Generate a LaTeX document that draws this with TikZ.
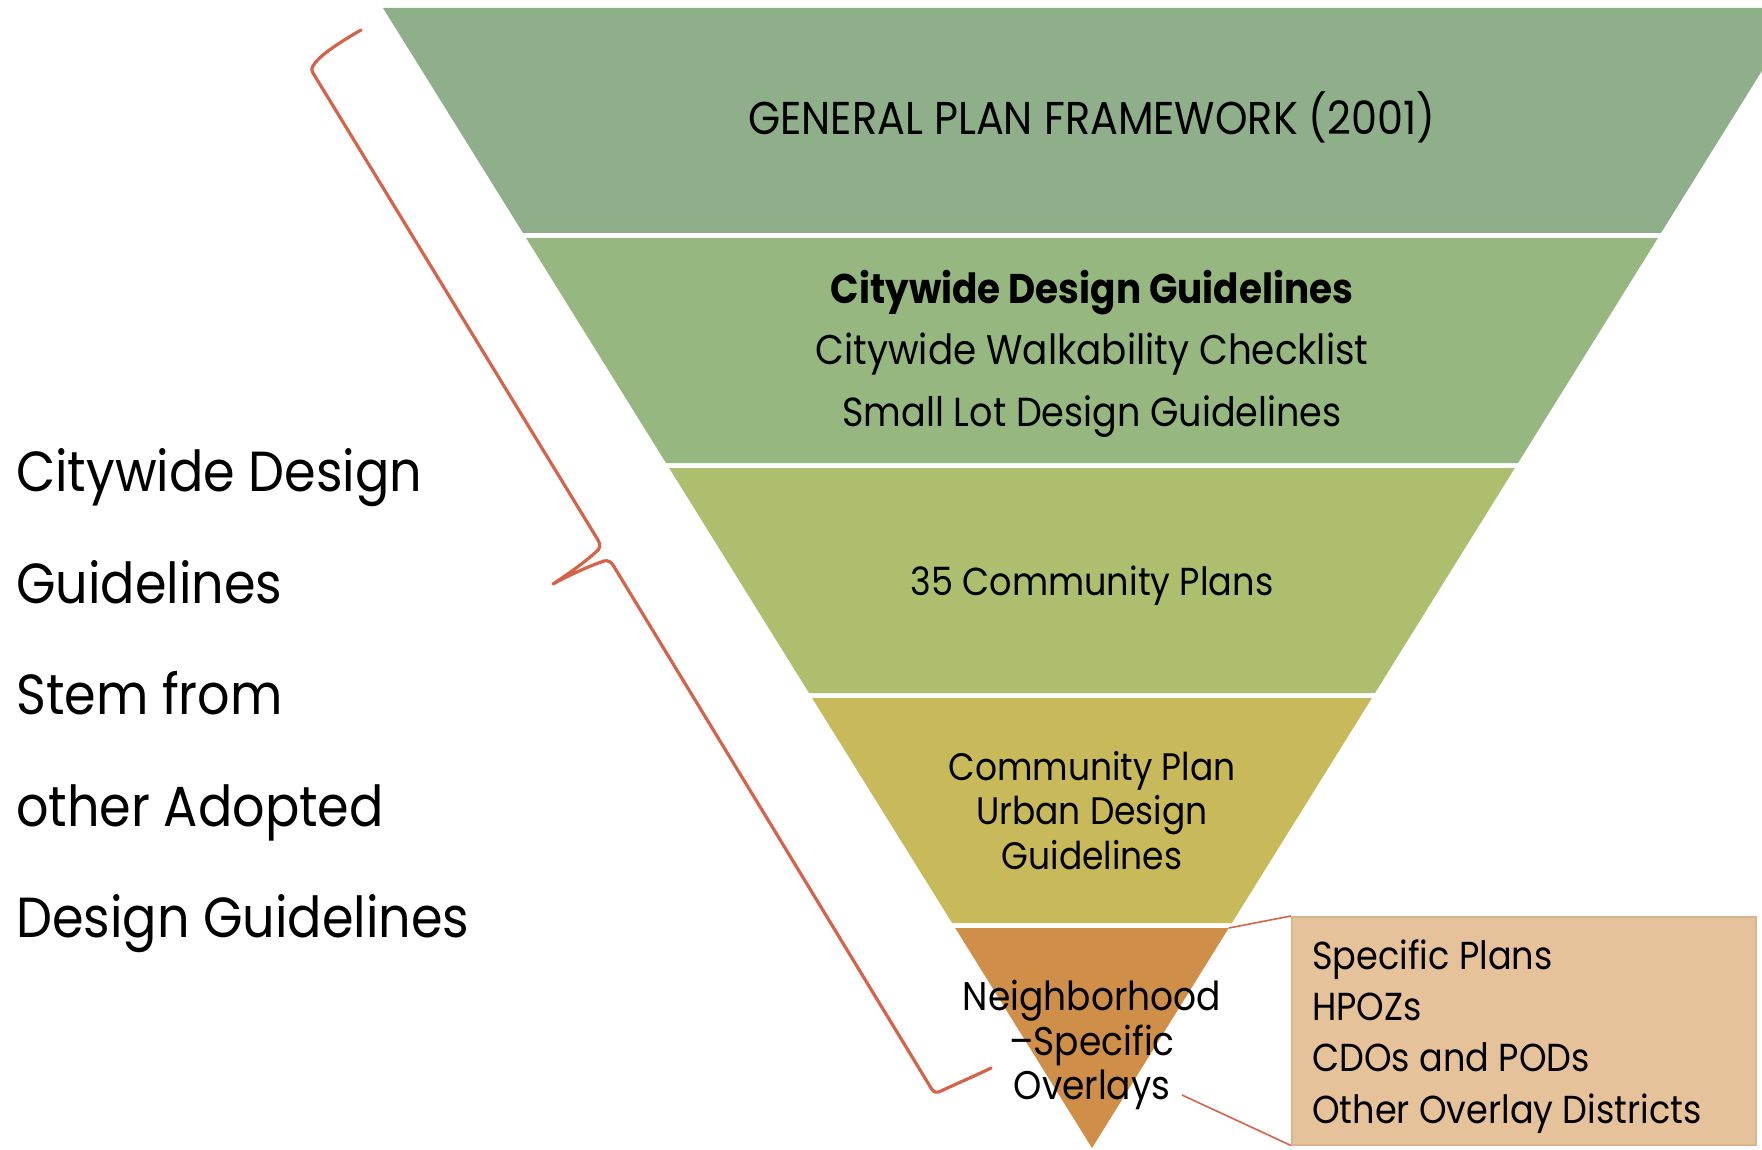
\documentclass[tikz,border=0pt]{standalone}
\usepackage{fontspec}
\setmainfont[FakeStretch=0.9]{Poppins}
\definecolor{bandA}{HTML}{8FAF8B}
\definecolor{bandB}{HTML}{96B77F}
\definecolor{bandC}{HTML}{ADBF6E}
\definecolor{bandD}{HTML}{C8B95A}
\definecolor{bandE}{HTML}{D08F48}
\definecolor{boxfill}{HTML}{E6C29B}
\definecolor{boxline}{HTML}{DAB48B}
\definecolor{accent}{HTML}{D5634A}
\newcommand{\fs}[1]{\fontsize{#1}{#1}\selectfont}
\begin{document}
\begin{tikzpicture}[x=1pt,y=-1pt,
  lbl/.style={inner sep=0pt, anchor=base, text=black},
  leftlbl/.style={inner sep=0pt, anchor=base west, text=black, font=\fs{56.5}},
  bracestyle/.style={draw=accent, line width=3.2pt, line cap=round, line join=round},
  connector/.style={draw=accent, line width=1.6pt},
  infobox/.style={draw=boxline, line width=1.5pt, fill=boxfill, minimum width=464pt, minimum height=228pt, anchor=north west, inner sep=0pt}]
\useasboundingbox (0,0) rectangle (1762,1150);
\clip (0,0) rectangle (1762,1150);
% funnel bands
\fill[bandA] (383,8) -- (1801,8) -- (1661,233) -- (523,233) -- cycle;
\fill[bandB] (526.1,238) -- (1657.9,238) -- (1518,463) -- (666,463) -- cycle;
\fill[bandC] (669.1,468) -- (1514.9,468) -- (1375,693) -- (809,693) -- cycle;
\fill[bandD] (812.1,698) -- (1371.9,698) -- (1231.9,923) -- (952.1,923) -- cycle;
\fill[bandE] (955.2,928) -- (1228.8,928) -- (1092,1148) -- cycle;
\coordinate (b5tr) at (1228.8,928);
\coordinate (ovend) at (1182,1095);
% band texts
\node[lbl, font=\fs{46}] (gpf) at (1092,135) {GENERAL PLAN FRAMEWORK (2001)};
\node[lbl, font=\fs{41.5}\bfseries] (cdg) at (1092,304) {Citywide Design Guidelines};
\node[lbl, font=\fs{41.5}] (cwc) at (1092,364) {Citywide Walkability Checklist};
\node[lbl, font=\fs{40.6}] (sld) at (1092,426) {Small Lot Design Guidelines};
\node[lbl, font=\fs{39}] (ccp) at (1092,595) {35 Community Plans};
\node[lbl, font=\fs{38.3}] (cp1) at (1092,780) {Community Plan};
\node[lbl, font=\fs{38.3}] (cp2) at (1092,824) {Urban Design};
\node[lbl, font=\fs{38.3}] (cp3) at (1092,869) {Guidelines};
\node[lbl, font=\fs{40}] (nb1) at (1092,1010) {Neighborhood};
\node[lbl, font=\fs{40}] (nb2) at (1092,1055) {–Specific};
\node[lbl, font=\fs{40}] (nb3) at (1092,1099) {Overlays};
% info box
\node[infobox] (box) at (1291,916) {};
\node[lbl, anchor=base west, font=\fs{39}] (bx1) at (1312,969) {Specific Plans};
\node[lbl, anchor=base west, font=\fs{39}] (bx2) at (1312,1020) {HPOZs};
\node[lbl, anchor=base west, font=\fs{39}] (bx3) at (1312,1071) {CDOs and PODs};
\node[lbl, anchor=base west, font=\fs{39}] (bx4) at (1312,1123) {Other Overlay Districts};
\draw[connector] (b5tr) -- (box.north west);
\draw[connector] (ovend) -- (box.south west);
% brace
\draw[bracestyle] (361,30) .. controls (335,45) and (318,57) .. (313,66)
  .. controls (311,69) and (312,71) .. (313,73) -- (598,540)
  .. controls (601,545) and (600,549) .. (596,552)
  .. controls (580,566) and (565,576) .. (553,584)
  .. controls (575,572) and (595,564) .. (604,561)
  .. controls (608,560) and (611,562) .. (613,565) -- (931,1088)
  .. controls (934,1093) and (937,1093) .. (941,1091)
  .. controls (960,1082) and (975,1076) .. (991,1068);
% left text
\node[leftlbl] (l1) at (16,491.5) {Citywide Design};
\node[leftlbl] (l2) at (16,603) {Guidelines};
\node[leftlbl] (l3) at (16,714.5) {Stem from};
\node[leftlbl] (l4) at (16,826) {other Adopted};
\node[leftlbl] (l5) at (16,937.5) {Design Guidelines};
\end{tikzpicture}
\end{document}
